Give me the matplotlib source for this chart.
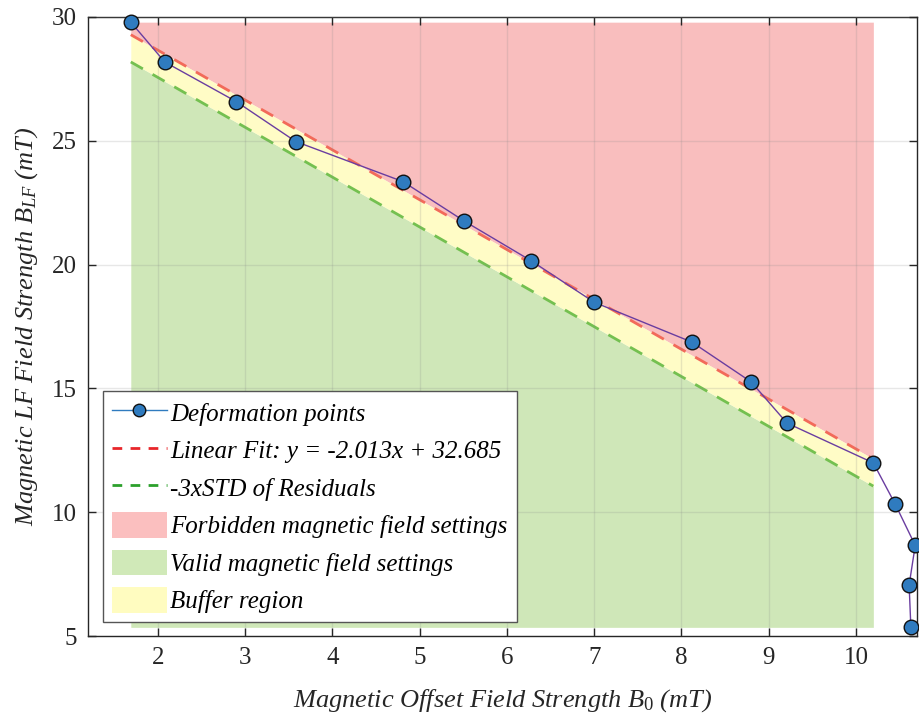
import numpy as np
import matplotlib
matplotlib.use("Agg")
import matplotlib.pyplot as plt
from matplotlib.lines import Line2D
from matplotlib.patches import Patch

# ---------------------------
# Data
# ---------------------------
b0 = [1.69, 2.08, 2.90, 3.58, 4.81, 5.51, 6.28, 7.00, 8.12, 8.80,
      9.21, 10.20, 10.45, 10.68, 10.61, 10.63]
blf = [29.79, 28.18, 26.58, 24.97, 23.35, 21.76, 20.15, 18.48, 16.87, 15.26,
       13.60, 11.99, 10.33, 8.66, 7.06, 5.35]

slope = -2.013
intercept = 32.685
three_std = 1.10
fit_x_range = [1.69, 10.20]

x_ticks = [2, 3, 4, 5, 6, 7, 8, 9, 10]
y_ticks = [5, 10, 15, 20, 25, 30]

# ---------------------------
# Fonts
# ---------------------------
plt.rcParams['font.family'] = ['Liberation Serif', 'DejaVu Serif']
plt.rcParams['mathtext.fontset'] = 'custom'
plt.rcParams['mathtext.rm'] = 'Liberation Serif'
plt.rcParams['mathtext.it'] = 'Liberation Serif:italic'
plt.rcParams['mathtext.default'] = 'it'

fig = plt.figure(figsize=(9.19, 7.22), dpi=100)
ax = fig.add_axes([0.0958, 0.1191, 0.902, 0.8574])

xf = np.linspace(fit_x_range[0], fit_x_range[1], 200)
yfit = slope * xf + intercept
ylow = yfit - three_std
ytop = max(blf)
ybot = min(blf)

ax.fill_between(xf, yfit, ytop, color='#f8a8a8', alpha=0.75, lw=0, zorder=1)
ax.fill_between(xf, ybot, ylow, color='#bfe0a0', alpha=0.75, lw=0, zorder=1)
ax.fill_between(xf, ylow, yfit, color='#fffcb8', alpha=0.8, lw=0, zorder=1)

ax.plot(xf, yfit, '--', color='#f26a5a', lw=2, dashes=(5, 4), zorder=2)
ax.plot(xf, ylow, '--', color='#74c050', lw=2, dashes=(5, 4), zorder=2)

ax.plot(b0, blf, '-', color='#6a3da0', lw=1, zorder=3)
ax.plot(b0, blf, 'o', color='#2f7bbf', mec='#111111', mew=1, ms=10.5,
        zorder=4, clip_on=False)

ax.set_xlim(1.2, 10.7)
ax.set_ylim(5, 30)
ax.set_xticks(x_ticks)
ax.set_yticks(y_ticks)
ax.grid(True, color='#888888', alpha=0.2, lw=1)
ax.set_axisbelow(False)
ax.tick_params(direction='in', top=True, right=True, length=6, width=1,
               labelsize=18, colors='#262626', pad=8)
for s in ax.spines.values():
    s.set_color('#262626')
    s.set_linewidth(1)

ax.set_xlabel(r"Magnetic Offset Field Strength $B_{0}$ (mT)", fontsize=19,
              style='italic', color='#262626', labelpad=13)
ax.set_ylabel(r"Magnetic LF Field Strength $B_{LF}$ (mT)", fontsize=19,
              style='italic', color='#262626')
ax.yaxis.set_label_coords(-0.058, 0.5)

handles = [
    Line2D([], [], color='#2f7bbf', lw=1, marker='o', mfc='#2f7bbf',
           mec='#111111', ms=9),
    Line2D([], [], color='#e8262a', lw=2, ls=(0, (3.5, 3))),
    Line2D([], [], color='#2ca02c', lw=2, ls=(0, (3.5, 3))),
    Patch(facecolor='#fbbfbf', edgecolor='none'),
    Patch(facecolor='#d0e9b8', edgecolor='none'),
    Patch(facecolor='#fffcc0', edgecolor='none'),
]
labels = [
    "Deformation points",
    "Linear Fit: y = -2.013x + 32.685",
    "-3xSTD of Residuals",
    "Forbidden magnetic field settings",
    "Valid magnetic field settings",
    "Buffer region",
]
leg = ax.legend(handles, labels, loc='lower left', bbox_to_anchor=(0.018, 0.0226),
                borderaxespad=0, fancybox=False, framealpha=1, edgecolor='#555555',
                prop={'family': 'Liberation Serif', 'style': 'italic', 'size': 18},
                handlelength=2.2, handleheight=1.2, handletextpad=0.15,
                labelspacing=0.45, borderpad=0.35)
leg.get_frame().set_linewidth(1)

fig.savefig("out.png", dpi=100)
